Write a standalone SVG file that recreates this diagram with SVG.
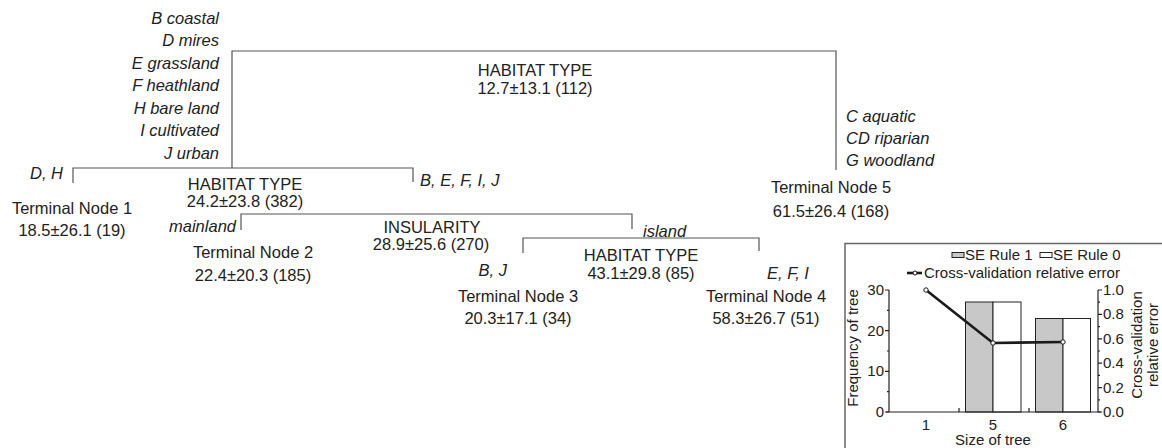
<svg xmlns="http://www.w3.org/2000/svg" width="1162" height="448" viewBox="0 0 1162 448">
<style>
text{font-family:"Liberation Sans",Arial,sans-serif;fill:#222}
.t{font-size:16.5px}
.i{font-size:16.5px;font-style:italic}
.m{text-anchor:middle}
.e{text-anchor:end}
.c{fill:none;stroke:#555;stroke-width:1.2}
.ch{font-size:15px}
.ax{stroke:#222;stroke-width:1.2;fill:none}
.bg{fill:#c8c8c8;stroke:#222;stroke-width:1}
.bw{fill:#fff;stroke:#222;stroke-width:1}
.ln{fill:none;stroke:#1a1a1a;stroke-width:2.6}
.mk{fill:#fff;stroke:#1a1a1a;stroke-width:1}
</style>
<rect width="1162" height="448" fill="#fff"/>
<g id="connectors">
<path class="c" d="M232,168 V51 H836 V170"/>
<path class="c" d="M73,183 V168 H413 V182"/>
<path class="c" d="M241,230 V214 H632 V229"/>
<path class="c" d="M523,253 V238 H759 V251"/>
</g>
<g id="root">
<text class="t m" x="535" y="76">HABITAT TYPE</text>
<text class="t m" x="535" y="94">12.7±13.1 (112)</text>
</g>
<g id="root-left-labels">
<text class="i e" x="219" y="24">B coastal</text>
<text class="i e" x="219" y="46">D mires</text>
<text class="i e" x="219" y="69">E grassland</text>
<text class="i e" x="219" y="91">F heathland</text>
<text class="i e" x="219" y="114">H bare land</text>
<text class="i e" x="219" y="136">I cultivated</text>
<text class="i e" x="219" y="159">J urban</text>
</g>
<g id="root-right-labels">
<text class="i" x="846" y="122">C aquatic</text>
<text class="i" x="846" y="144">CD riparian</text>
<text class="i" x="846" y="166">G woodland</text>
</g>
<g id="node2">
<text class="t m" x="245" y="190">HABITAT TYPE</text>
<text class="t m" x="245" y="207">24.2±23.8 (382)</text>
<text class="i e" x="63" y="179">D, H</text>
<text class="i" x="420" y="186">B, E, F, I, J</text>
</g>
<g id="terminal1">
<text class="t m" x="72" y="214">Terminal Node 1</text>
<text class="t m" x="72" y="236">18.5±26.1 (19)</text>
</g>
<g id="insularity">
<text class="t m" x="432" y="233">INSULARITY</text>
<text class="t m" x="431" y="250">28.9±25.6 (270)</text>
<text class="i e" x="236" y="232">mainland</text>
<text class="i" x="643" y="237">island</text>
</g>
<g id="terminal2">
<text class="t m" x="253" y="258">Terminal Node 2</text>
<text class="t m" x="253" y="281">22.4±20.3 (185)</text>
</g>
<g id="node4">
<text class="t m" x="641" y="261">HABITAT TYPE</text>
<text class="t m" x="641" y="279">43.1±29.8 (85)</text>
<text class="i e" x="507" y="276">B, J</text>
<text class="i" x="767" y="279">E, F, I</text>
</g>
<g id="terminal3">
<text class="t m" x="518" y="302">Terminal Node 3</text>
<text class="t m" x="518" y="324">20.3±17.1 (34)</text>
</g>
<g id="terminal4">
<text class="t m" x="766" y="302">Terminal Node 4</text>
<text class="t m" x="766" y="324">58.3±26.7 (51)</text>
</g>
<g id="terminal5">
<text class="t m" x="831" y="193">Terminal Node 5</text>
<text class="t m" x="831" y="217">61.5±26.4 (168)</text>
</g>
<g id="inset">
<rect x="845" y="243.5" width="330" height="220" fill="#fff" stroke="#666" stroke-width="1.5"/>
<rect class="bg" x="952" y="252.5" width="12" height="5"/>
<text class="ch" x="965" y="260">SE Rule 1</text>
<rect class="bw" x="1040" y="252.5" width="12" height="5"/>
<text class="ch" x="1053" y="260">SE Rule 0</text>
<line class="ln" x1="907" y1="273" x2="922" y2="273" stroke-width="2"/>
<circle class="mk" cx="915" cy="273" r="2"/>
<text class="ch" x="924" y="278">Cross-validation relative error</text>
<rect class="bg" x="965.5" y="302" width="27.5" height="110"/>
<rect class="bw" x="993" y="302" width="28" height="110"/>
<rect class="bg" x="1035.5" y="318.5" width="27.5" height="93.5"/>
<rect class="bw" x="1063" y="318.5" width="27.5" height="93.5"/>
<path class="ax" d="M889,290 V412 M886,412 H1101 M1098,290 V412"/>
<path class="ax" d="M885,290 H889 M885,330.7 H889 M885,371.3 H889 M885,412 H889 M887,310.3 H889 M887,351 H889 M887,391.7 H889"/>
<path class="ax" d="M1098,290 H1102 M1098,314.4 H1102 M1098,338.8 H1102 M1098,363.2 H1102 M1098,387.6 H1102 M1098,412 H1102 M1098,302.2 H1100 M1098,326.6 H1100 M1098,351 H1100 M1098,375.4 H1100 M1098,399.8 H1100"/>
<path class="ax" d="M959,408 V412 M1029,408 V412"/>
<polyline class="ln" points="926,290 993,343 1063,342"/>
<circle class="mk" cx="926" cy="290" r="2.2"/>
<circle class="mk" cx="993" cy="343" r="2.2"/>
<circle class="mk" cx="1063" cy="342" r="2.2"/>
<text class="ch e" x="884" y="295">30</text>
<text class="ch e" x="884" y="336">20</text>
<text class="ch e" x="884" y="376">10</text>
<text class="ch e" x="884" y="417">0</text>
<text class="ch" x="1103" y="295">1.0</text>
<text class="ch" x="1103" y="319">0.8</text>
<text class="ch" x="1103" y="344">0.6</text>
<text class="ch" x="1103" y="368">0.4</text>
<text class="ch" x="1103" y="393">0.2</text>
<text class="ch" x="1103" y="417">0.0</text>
<text class="ch m" x="926" y="430">1</text>
<text class="ch m" x="993" y="430">5</text>
<text class="ch m" x="1063" y="430">6</text>
<text class="ch m" x="993" y="445">Size of tree</text>
<text class="ch m" transform="translate(858,348) rotate(-90)">Frequency of tree</text>
<text class="ch m" transform="translate(1142,345) rotate(-90)">Cross-validation</text>
<text class="ch m" transform="translate(1158,345) rotate(-90)">relative error</text>
</g>
</svg>
